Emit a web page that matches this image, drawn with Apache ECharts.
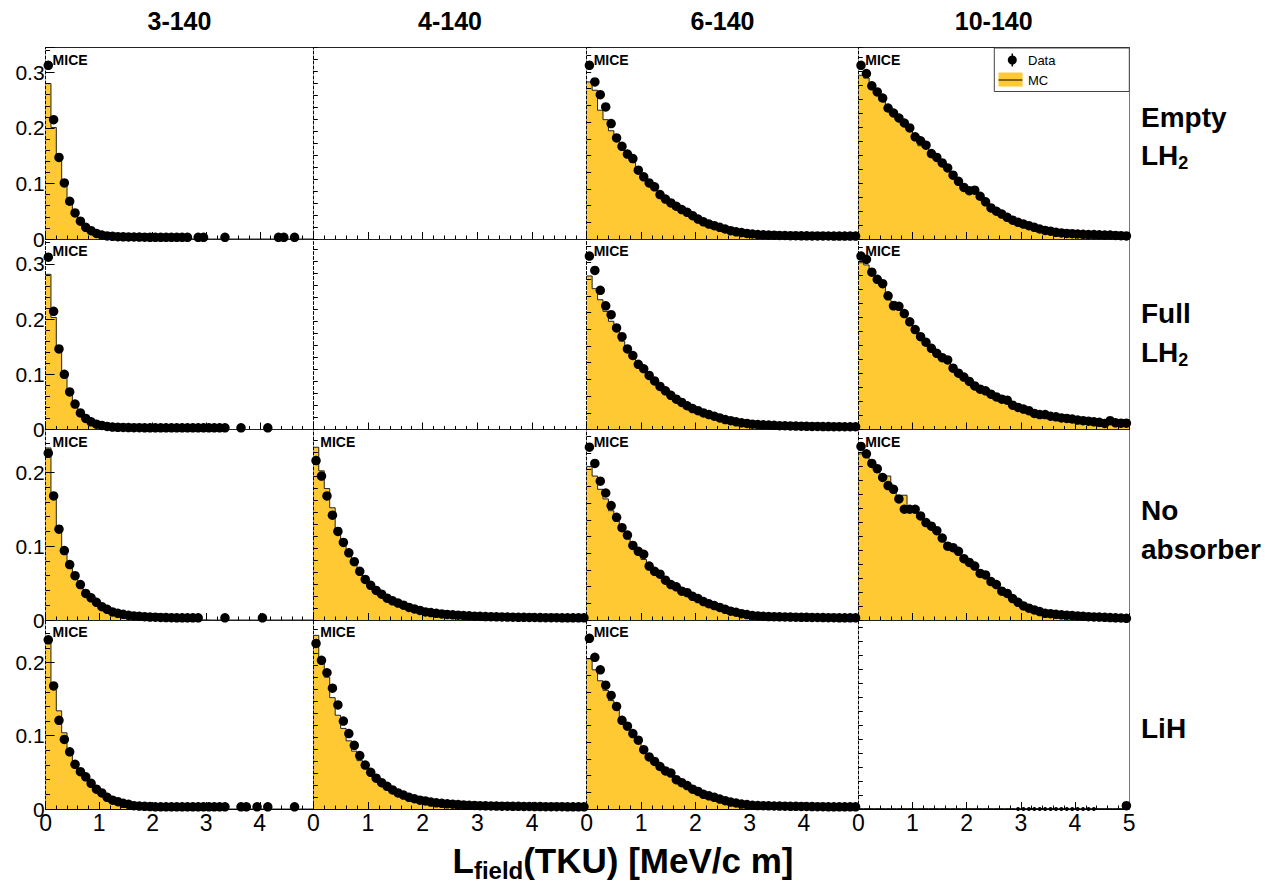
<!DOCTYPE html>
<html><head><meta charset="utf-8">
<script src="https://cdn.jsdelivr.net/npm/echarts@6/dist/echarts.min.js"></script>
<style>html,body{margin:0;padding:0;background:#fff}#c{width:1265px;height:883px}</style>
</head><body><div id="c"></div>
<script>
// ---------------- data ----------------
const COLUMNS = ['3-140', '4-140', '6-140', '10-140'];
const ROW_LABELS = [['Empty', 'LH2'], ['Full', 'LH2'], ['No', 'absorber'], ['LiH']];
const X_TICK_LABELS = ['0', '1', '2', '3', '4', '5'];
const X_MIN = 0, X_MAX = 5, BIN_WIDTH = 0.1;
const ROW_Y_MAX = [0.345, 0.345, 0.258, 0.258];
const LEGEND_LABELS = ['Data', 'MC'];
const PANEL_TAG = 'MICE';
const X_TITLE = ['L', 'field', '(TKU) [MeV/c m]'];

const DATA_EMPTY_3 = [0.313,0.215,0.147,0.101,0.068,0.047,0.032,0.021,0.015,0.010,
 0.007,0.0055,0.0048,0.0042,0.004,0.0038,0.0036,0.0034,0.0032,0.0031,
 0.003,0.003,0.003,0.003,0.003,0.003,0.003,null,0.003,0.003,
 null,null,null,0.003,null,null,null,null,null,null,
 null,null,null,0.003,0.003,null,0.003,null,null,null];
const MC_EMPTY_3 = [0.280,0.201,0.145,0.098,0.066,0.046,0.032,0.022,0.015,0.010,
 0.007,0.005,0.0035,0.0025,0.002,0.0015,0.0012,0.001,0.0008,0.0006,
 0.0005,0.0004,0.0003,0.0003,0.0002,0.0002,0.0002,0.0001,0.0001,0.0001,
 0,0,0,0,0,0,0,0,0,0, 0,0,0,0,0,0,0,0,0,0];

const DATA_EMPTY_6 = [0.313,0.283,0.260,0.238,0.208,0.182,0.167,0.153,0.145,0.124,
 0.112,0.101,0.094,0.080,0.072,0.065,0.059,0.053,0.048,0.042,
 0.036,0.031,0.027,0.024,0.021,0.018,0.015,0.013,0.0115,0.010,
 0.009,0.008,0.0075,0.007,0.0068,0.0065,0.0063,0.006,0.006,0.0058,
 0.0057,0.0056,0.0055,0.0055,0.0054,0.0053,0.0053,0.0052,0.0052,0.0052];
const MC_EMPTY_6 = [0.283,0.268,0.232,0.215,0.195,0.178,0.163,0.150,0.138,0.124,
 0.112,0.100,0.092,0.082,0.073,0.065,0.058,0.052,0.046,0.041,
 0.035,0.030,0.026,0.022,0.019,0.016,0.013,0.011,0.0095,0.008,
 0.007,0.006,0.005,0.0045,0.004,0.0035,0.003,0.003,0.0028,0.0026,
 0.0025,0.0024,0.0023,0.0022,0.0021,0.002,0.002,0.002,0.002,0.002];

const DATA_EMPTY_10 = [0.313,0.298,0.276,0.265,0.254,0.236,0.227,0.218,0.209,0.200,
 0.184,0.177,0.169,0.154,0.147,0.137,0.128,0.115,0.104,0.093,
 0.087,0.088,0.077,0.067,0.056,0.050,0.045,0.039,0.034,0.030,
 0.027,0.024,0.021,0.018,0.0155,0.014,0.012,0.011,0.010,0.0095,
 0.009,0.0085,0.008,0.008,0.0075,0.007,0.007,0.0065,0.006,0.0055];
const MC_EMPTY_10 = [0.295,0.290,0.272,0.260,0.250,0.236,0.226,0.215,0.205,0.196,
 0.186,0.168,0.165,0.156,0.147,0.137,0.128,0.116,0.104,0.094,
 0.087,0.085,0.076,0.067,0.057,0.050,0.044,0.038,0.033,0.029,
 0.026,0.023,0.020,0.017,0.0145,0.0125,0.011,0.0095,0.0085,0.0078,
 0.007,0.0065,0.006,0.0058,0.0055,0.005,0.0048,0.0045,0.0042,0.004];

const DATA_FULL_3 = [0.312,0.214,0.146,0.100,0.068,0.046,0.030,0.020,0.014,0.0097,
 0.0073,0.0055,0.0045,0.004,0.0037,0.0035,0.0033,0.0032,0.003,0.003,
 0.003,0.003,0.003,0.003,0.003,0.003,0.003,0.003,0.003,0.003,
 0.003,0.003,0.003,0.003,null,null,0.003,null,null,null,
 null,0.003,null,null,null,null,null,null,null,null];
const MC_FULL_3 = [0.281,0.203,0.145,0.099,0.067,0.045,0.030,0.020,0.014,0.0095,
 0.0065,0.0045,0.003,0.002,0.0015,0.0012,0.001,0.0008,0.0006,0.0005,
 0.0004,0.0003,0.0003,0.0002,0.0002,0.0002,0.0001,0.0001,0.0001,0.0001,
 0,0,0,0,0,0,0,0,0,0, 0,0,0,0,0,0,0,0,0,0];

const DATA_FULL_6 = [0.314,0.288,0.252,0.224,0.208,0.184,0.168,0.146,0.134,0.118,
 0.110,0.098,0.088,0.078,0.070,0.062,0.055,0.049,0.043,0.038,
 0.034,0.030,0.027,0.024,0.021,0.018,0.016,0.014,0.012,0.011,
 0.0097,0.009,0.0085,0.008,0.0075,0.007,0.0068,0.0065,0.0062,0.006,
 0.0058,0.0056,0.0055,0.0054,0.0053,0.0052,0.0051,0.005,0.005,0.005];
const MC_FULL_6 = [0.278,0.255,0.235,0.214,0.196,0.178,0.160,0.143,0.130,0.116,
 0.105,0.095,0.085,0.076,0.068,0.060,0.053,0.047,0.041,0.036,
 0.032,0.028,0.025,0.022,0.019,0.016,0.014,0.012,0.010,0.009,
 0.008,0.007,0.0062,0.0055,0.005,0.0045,0.004,0.0038,0.0035,0.0032,
 0.003,0.003,0.0028,0.0027,0.0026,0.0025,0.0024,0.0023,0.0022,0.0022];

const DATA_FULL_10 = [0.314,0.308,0.285,0.272,0.264,0.242,0.224,0.223,0.210,0.195,
 0.181,0.168,0.158,0.147,0.138,0.130,0.126,0.111,0.102,0.095,
 0.087,0.079,0.073,0.070,0.064,0.059,0.055,0.053,0.044,0.040,
 0.037,0.034,0.029,0.027,0.027,0.024,0.023,0.021,0.020,0.019,
 0.017,0.016,0.015,0.014,0.013,0.011,0.016,0.012,0.0115,0.0115];
const MC_FULL_10 = [0.302,0.298,0.284,0.270,0.258,0.245,0.232,0.220,0.208,0.196,
 0.183,0.170,0.158,0.148,0.139,0.130,0.122,0.112,0.103,0.095,
 0.087,0.080,0.074,0.068,0.062,0.057,0.052,0.048,0.044,0.040,
 0.036,0.033,0.030,0.028,0.026,0.024,0.022,0.020,0.019,0.018,
 0.016,0.015,0.014,0.013,0.012,0.011,0.0105,0.010,0.0095,0.009];

const DATA_NOABS_3 = [0.226,0.168,0.123,0.094,0.075,0.060,0.048,0.036,0.030,0.024,
 0.018,0.0145,0.011,0.009,0.0077,0.0064,0.0055,0.005,0.0045,0.004,
 0.0038,0.0035,0.0033,0.0032,0.003,0.003,0.003,0.003,0.003,null,
 null,null,null,0.003,null,null,null,null,null,null,
 0.003,null,null,null,null,null,null,null,null,null];
const MC_NOABS_3 = [0.233,0.165,0.128,0.090,0.073,0.058,0.046,0.036,0.029,0.023,
 0.018,0.014,0.011,0.0085,0.0065,0.005,0.004,0.0032,0.0025,0.002,
 0.0016,0.0013,0.001,0.0008,0.0006,0.0005,0.0004,0.0003,0.0002,0.0002,
 0,0,0,0,0,0,0,0,0,0, 0,0,0,0,0,0,0,0,0,0];

const DATA_NOABS_4 = [0.216,0.195,0.168,0.142,0.120,0.105,0.091,0.079,0.066,0.055,
 0.047,0.040,0.035,0.0295,0.026,0.023,0.020,0.017,0.015,0.013,
 0.011,0.010,0.009,0.0082,0.0075,0.007,0.0065,0.006,0.0056,0.0052,
 0.005,0.0047,0.0045,0.0043,0.0041,0.004,0.0038,0.0037,0.0036,0.0035,
 0.0034,0.0033,0.0032,0.0032,0.0031,0.003,0.003,0.003,0.003,0.003];
const MC_NOABS_4 = [0.234,0.202,0.178,0.152,0.125,0.105,0.090,0.077,0.065,0.055,
 0.046,0.039,0.033,0.028,0.024,0.021,0.018,0.015,0.013,0.011,
 0.0095,0.008,0.007,0.006,0.0052,0.0045,0.004,0.0035,0.003,0.0027,
 0.0025,0.0024,0.0023,0.0022,0.0021,0.002,0.002,0.0019,0.0019,0.0018,
 0.0018,0.0017,0.0017,0.0016,0.0016,0.0016,0.0015,0.0015,0.0015,0.0015];

const DATA_NOABS_6 = [0.234,0.212,0.188,0.172,0.155,0.139,0.125,0.115,0.101,0.093,
 0.089,0.073,0.066,0.062,0.054,0.048,0.045,0.039,0.037,0.032,
 0.029,0.025,0.022,0.0195,0.017,0.0145,0.012,0.0105,0.0086,0.0073,
 0.006,0.0055,0.005,0.0047,0.0045,0.0043,0.0041,0.004,0.0038,0.0037,
 0.0036,0.0035,0.0034,0.0033,0.0032,0.0031,0.003,0.003,0.003,0.003];
const MC_NOABS_6 = [0.208,0.195,0.177,0.164,0.148,0.134,0.121,0.110,0.099,0.090,
 0.082,0.074,0.067,0.060,0.054,0.048,0.043,0.038,0.034,0.030,
 0.026,0.023,0.020,0.017,0.015,0.013,0.011,0.009,0.0075,0.0063,
 0.0053,0.0045,0.004,0.0035,0.003,0.0028,0.0026,0.0025,0.0024,0.0023,
 0.0022,0.0021,0.0021,0.002,0.002,0.002,0.002,0.002,0.002,0.002];

const DATA_NOABS_10 = [0.235,0.225,0.212,0.205,0.193,0.182,0.177,0.164,0.150,0.150,
 0.150,0.141,0.132,0.127,0.121,0.111,0.100,0.098,0.093,0.083,
 0.078,0.073,0.063,0.061,0.052,0.048,0.039,0.036,0.029,0.024,
 0.019,0.016,0.0136,0.0114,0.009,0.0086,0.0077,0.007,0.0065,0.006,
 0.0055,0.005,0.0045,0.0042,0.004,0.0037,0.0033,0.003,0.0027,0.0023];
const MC_NOABS_10 = [0.225,0.220,0.210,0.200,0.190,0.195,0.176,0.165,0.169,0.152,
 0.146,0.140,0.132,0.126,0.119,0.111,0.104,0.097,0.090,0.084,
 0.078,0.071,0.065,0.059,0.053,0.047,0.036,0.033,0.028,0.023,
 0.019,0.016,0.013,0.011,0.009,0.0075,0.0065,0.0055,0.005,0.0045,
 0.004,0.0035,0.003,0.0028,0.0025,0.0022,0.002,0.0018,0.0016,0.0015];

const DATA_LIH_3 = [0.231,0.168,0.121,0.095,0.078,0.061,0.051,0.044,0.035,0.027,
 0.022,0.016,0.012,0.010,0.0077,0.0064,0.0045,0.004,0.0036,0.0033,
 0.003,0.003,0.003,0.003,0.003,0.003,0.003,0.003,0.003,0.003,
 0.003,0.003,0.003,0.003,null,null,0.003,0.003,null,0.003,
 null,0.003,null,null,null,null,0.003,null,null,null];
const MC_LIH_3 = [0.233,0.163,0.134,0.104,0.082,0.064,0.051,0.042,0.034,0.027,
 0.021,0.016,0.012,0.009,0.007,0.0055,0.004,0.003,0.0025,0.002,
 0.0015,0.0012,0.001,0.0008,0.0006,0.0005,0.0004,0.0003,0.0002,0.0002,
 0,0,0,0,0,0,0,0,0,0, 0,0,0,0,0,0,0,0,0,0];

const DATA_LIH_4 = [0.226,0.203,0.186,0.165,0.142,0.120,0.103,0.087,0.073,0.060,
 0.050,0.042,0.036,0.031,0.026,0.022,0.019,0.016,0.014,0.012,
 0.011,0.0095,0.0085,0.0078,0.007,0.0065,0.006,0.0055,0.005,0.0048,
 0.0046,0.0044,0.0042,0.004,0.0039,0.0038,0.0037,0.0036,0.0035,0.0034,
 0.0033,0.0033,0.0032,0.0032,0.0031,0.0031,0.003,0.003,0.003,0.003];
const MC_LIH_4 = [0.237,0.205,0.180,0.152,0.128,0.110,0.093,0.079,0.066,0.056,
 0.047,0.040,0.034,0.029,0.024,0.020,0.017,0.014,0.012,0.010,
 0.0088,0.0076,0.0066,0.0057,0.005,0.0044,0.0039,0.0035,0.0031,0.0028,
 0.0026,0.0024,0.0023,0.0022,0.0021,0.002,0.002,0.0019,0.0019,0.0018,
 0.0018,0.0017,0.0017,0.0016,0.0016,0.0016,0.0015,0.0015,0.0015,0.0015];

const DATA_LIH_6 = [0.233,0.207,0.190,0.169,0.155,0.140,0.121,0.113,0.103,0.094,
 0.081,0.071,0.065,0.058,0.052,0.049,0.040,0.036,0.032,0.027,
 0.024,0.020,0.018,0.016,0.0136,0.0114,0.0095,0.0082,0.0068,0.006,
 0.005,0.0047,0.0045,0.0043,0.0041,0.004,0.0038,0.0037,0.0036,0.0035,
 0.0034,0.0033,0.0032,0.0031,0.003,0.003,0.003,0.003,0.003,0.003];
const MC_LIH_6 = [0.205,0.190,0.175,0.162,0.148,0.135,0.122,0.111,0.101,0.091,
 0.082,0.073,0.065,0.058,0.052,0.046,0.041,0.036,0.032,0.028,
 0.024,0.021,0.018,0.015,0.013,0.011,0.0093,0.0078,0.0065,0.0055,
 0.0046,0.004,0.0035,0.003,0.0027,0.0025,0.0024,0.0023,0.0022,0.0021,
 0.002,0.002,0.0019,0.0019,0.0019,0.0018,0.0018,0.0018,0.0018,0.0018];

const DATA_LIH_10 = [null,null,null,null,null,null,null,null,null,null,
 null,null,null,null,null,null,null,null,null,null,
 null,null,null,null,null,null,null,null,null,0,
 0,0,0,0,0,0,0,0,0,0,
 0,0,0,0,null,null,null,null,null,0.0045];
const MC_LIH_10 = [0.0006,0.0006,0.0006,0.0006,0.0006,0.0006,0.0006,0.0006,0.0006,0.0006,
 0.0006,0.0006,0.0006,0.0006,0.0006,0.0006,0.0006,0.0006,0.0006,0.0006,
 0.0006,0.0006,0.0006,0.0006,0.0006,0.0006,0.0006,0.0006,0.0006,0.0006,
 0.0006,0.0006,0.0006,0.0006,0.0006,0.0006,0.0006,0.0006,0.0006,0.0006,
 0.0006,0.0006,0.0006,0.0006,0.0006,0.0006,0.0006,0.0006,0.0006,0.0006];

// panels[row][col]: {data, mc, tag}
const PANELS = [
  [{data: DATA_EMPTY_3, mc: MC_EMPTY_3, tag: true}, null, {data: DATA_EMPTY_6, mc: MC_EMPTY_6, tag: true}, {data: DATA_EMPTY_10, mc: MC_EMPTY_10, tag: true}],
  [{data: DATA_FULL_3, mc: MC_FULL_3, tag: true}, null, {data: DATA_FULL_6, mc: MC_FULL_6, tag: true}, {data: DATA_FULL_10, mc: MC_FULL_10, tag: true}],
  [{data: DATA_NOABS_3, mc: MC_NOABS_3, tag: true}, {data: DATA_NOABS_4, mc: MC_NOABS_4, tag: true}, {data: DATA_NOABS_6, mc: MC_NOABS_6, tag: true}, {data: DATA_NOABS_10, mc: MC_NOABS_10, tag: true}],
  [{data: DATA_LIH_3, mc: MC_LIH_3, tag: true}, {data: DATA_LIH_4, mc: MC_LIH_4, tag: true}, {data: DATA_LIH_6, mc: MC_LIH_6, tag: true}, {data: DATA_LIH_10, mc: MC_LIH_10, tag: false}]
];

// ---------------- layout / style ----------------
const FONT = '"Liberation Sans", Arial, Helvetica, sans-serif';
const YELLOW = '#fec932';
const COL_LEFT = [45.6, 313.3, 586.7, 858.3];
const COL_WIDTH = [267.7, 273.4, 271.6, 270.8];
const ROW_TOP = [47.5, 239, 429.5, 620];
const ROW_HEIGHT = [191.5, 190.5, 190.5, 189];
const TICK_PX = [null, 12, 16.7, 14];

const chart = echarts.init(document.getElementById('c'), null, {renderer: 'svg', width: 1265, height: 883});

const grids = [], xAxes = [], yAxes = [], series = [], graphics = [];

for (let r = 0; r < 4; r++) {
  for (let c = 0; c < 4; c++) {
    const gi = grids.length;
    grids.push({left: COL_LEFT[c], top: ROW_TOP[r], width: COL_WIDTH[c], height: ROW_HEIGHT[r],
      show: false, containLabel: false, outerBoundsMode: 'none'});
    const bottomRow = r === 3;
    const xi = xAxes.length;
    xAxes.push({
      gridIndex: gi, type: 'value', min: X_MIN, max: X_MAX, interval: 1, position: 'bottom', z: 4,
      axisLine: {show: true, onZero: false, lineStyle: {color: '#000', width: 1}},
      axisTick: {show: true, inside: true, length: 7, lineStyle: {color: '#000', width: 1}},
      minorTick: {show: true, splitNumber: 5, length: 3.5, lineStyle: {color: '#000', width: 1}},
      splitLine: {show: false}, minorSplitLine: {show: false},
      axisLabel: {show: bottomRow, color: '#000', fontSize: 23, fontFamily: FONT, margin: 2,
        showMaxLabel: c === 3, showMinLabel: true,
        formatter: v => X_TICK_LABELS[Math.round(v)]}
    });
    xAxes.push({
      gridIndex: gi, type: 'value', min: X_MIN, max: X_MAX, position: 'top', z: 4,
      axisLine: {show: true, onZero: false, lineStyle: {color: '#222', width: 1}},
      axisTick: {show: false}, axisLabel: {show: false}, splitLine: {show: false}
    });
    const yMax = ROW_Y_MAX[r];
    const yi = yAxes.length;
    const first = c === 0;
    const pxPerUnit = ROW_HEIGHT[r] / yMax;
    yAxes.push({
      gridIndex: gi, type: 'value', min: 0, max: yMax,
      interval: first ? 0.1 : TICK_PX[c] / pxPerUnit,
      position: 'left', z: 4,
      axisLine: {show: true, onZero: false, lineStyle: {color: '#000', width: 1, type: [3, 2]}},
      axisTick: {show: true, inside: true, length: first ? 9 : 4.5, lineStyle: {color: '#000', width: 1}},
      minorTick: {show: first, splitNumber: 5, length: 4.5, lineStyle: {color: '#000', width: 1}},
      splitLine: {show: false}, minorSplitLine: {show: false},
      axisLabel: {show: first, color: '#000', fontSize: 21, fontFamily: FONT, margin: 1,
        showMaxLabel: false, formatter: v => (Math.round(v * 10) / 10).toString()}
    });
    if (c === 3) {
      yAxes.push({
        gridIndex: gi, type: 'value', min: 0, max: yMax, position: 'right', z: 4,
        axisLine: {show: true, onZero: false, lineStyle: {color: '#777', width: 1}},
        axisTick: {show: false}, axisLabel: {show: false}, splitLine: {show: false}
      });
    }
    const p = PANELS[r][c];
    if (p) {
      const mcPts = p.mc.map((v, i) => [X_MIN + i * BIN_WIDTH, v]);
      mcPts.push([X_MAX, p.mc[p.mc.length - 1]]);
      series.push({
        type: 'line', name: LEGEND_LABELS[1], xAxisIndex: xi, yAxisIndex: yi, step: 'end', data: mcPts,
        symbol: 'none', silent: true, animation: false, z: 2,
        lineStyle: {color: '#222', width: 1}, areaStyle: {color: YELLOW, opacity: 1, origin: 'start'}
      });
      const pts = [];
      p.data.forEach((v, i) => { if (v !== null) pts.push([X_MIN + (i + 0.5) * BIN_WIDTH, v]); });
      series.push({
        type: 'scatter', name: LEGEND_LABELS[0], xAxisIndex: xi, yAxisIndex: yi, data: pts,
        symbol: 'circle', symbolSize: v => (v[1] < 0.001 ? 4 : 9.5),
        silent: true, animation: false, z: 5, clip: false,
        itemStyle: {color: '#000', opacity: 1}
      });
      if (p.tag) {
        graphics.push({type: 'text', x: COL_LEFT[c] + 7, y: ROW_TOP[r] + 12, z: 10,
          style: {text: PANEL_TAG, font: 'bold 14px ' + FONT, fill: '#000', align: 'left', verticalAlign: 'middle'}});
      }
    }
  }
}

// column titles
COLUMNS.forEach((t, c) => {
  graphics.push({type: 'text', x: COL_LEFT[c] + COL_WIDTH[c] / 2, y: 21,
    style: {text: t, font: 'bold 25px ' + FONT, fill: '#000', align: 'center', verticalAlign: 'middle'}});
});
// row labels
const ROW_LABEL_Y = [[117, 155], [313, 352], [510, 549], [728]];
ROW_LABELS.forEach((lines, r) => {
  lines.forEach((t, k) => {
    const isLH = t === 'LH2';
    graphics.push({type: 'text', x: 1141, y: ROW_LABEL_Y[r][k],
      style: {
        text: isLH ? '{m|LH}{s|2}' : t,
        font: 'bold 28px ' + FONT, fill: '#000', align: 'left', verticalAlign: 'middle',
        rich: {m: {font: 'bold 28px ' + FONT, fill: '#000'},
               s: {font: 'bold 18px ' + FONT, fill: '#000', padding: [16, 0, 0, 0]}}
      }});
  });
});
// x title
graphics.push({type: 'text', x: 623, y: 860,
  style: {
    text: '{m|' + X_TITLE[0] + '}{s|' + X_TITLE[1] + '}{m|' + X_TITLE[2] + '}',
    align: 'center', verticalAlign: 'middle',
    rich: {m: {font: 'bold 35px ' + FONT, fill: '#000'},
           s: {font: 'bold 24px ' + FONT, fill: '#000', padding: [20, 0, 0, 0]}}
  }});
// legend
graphics.push({type: 'rect', shape: {x: 994.3, y: 48, width: 135, height: 43.5}, z: 20,
  style: {fill: '#fff', stroke: '#444', lineWidth: 1}});
graphics.push({type: 'line', shape: {x1: 1012.3, y1: 53.5, x2: 1012.3, y2: 66.5}, z: 21,
  style: {stroke: '#000', lineWidth: 1.5}});
graphics.push({type: 'circle', shape: {cx: 1012.3, cy: 60, r: 4.5}, z: 21, style: {fill: '#000'}});
graphics.push({type: 'text', x: 1028, y: 60, z: 21,
  style: {text: LEGEND_LABELS[0], font: '13px ' + FONT, fill: '#000', align: 'left', verticalAlign: 'middle'}});
graphics.push({type: 'rect', shape: {x: 998.5, y: 72.5, width: 24, height: 14}, z: 21, style: {fill: YELLOW}});
graphics.push({type: 'line', shape: {x1: 998.5, y1: 80, x2: 1022.5, y2: 80}, z: 22, style: {stroke: '#000', lineWidth: 1}});
graphics.push({type: 'text', x: 1028, y: 80.5, z: 21,
  style: {text: LEGEND_LABELS[1], font: '13px ' + FONT, fill: '#000', align: 'left', verticalAlign: 'middle'}});

chart.setOption({
  animation: false,
  backgroundColor: '#fff',
  textStyle: {fontFamily: FONT},
  grid: grids, xAxis: xAxes, yAxis: yAxes, series: series, graphic: graphics
});
</script></body></html>
